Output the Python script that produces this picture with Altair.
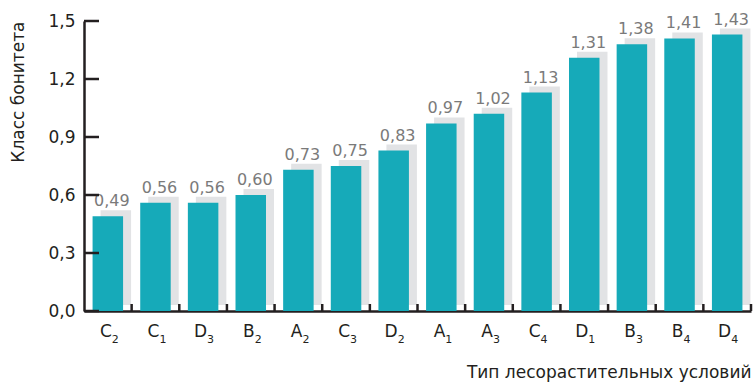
import altair as alt
import pandas as pd

# Forest site types (letter + subscript index) and their site-class values
letters = ["C", "C", "D", "B", "A", "C", "D", "A", "A", "C", "D", "B", "B", "D"]
indices = ["2", "1", "3", "2", "2", "3", "2", "1", "3", "4", "1", "3", "4", "4"]
values = [0.49, 0.56, 0.56, 0.60, 0.73, 0.75, 0.83, 0.97, 1.02, 1.13, 1.31, 1.38, 1.41, 1.43]
y_ticks = [0.0, 0.3, 0.6, 0.9, 1.2, 1.5]

categories = [l + i for l, i in zip(letters, indices)]
df = pd.DataFrame({"cat": categories, "letter": letters, "idx": indices, "value": values})
ticks_df = pd.DataFrame({"value": y_ticks})

FONT = "DejaVu Sans"
INK = "#231f20"
BAR = "#16aab9"
SHADOW = "#e2e3e5"
LABEL = "#7a7a7a"
W, H = 667, 290
STEP = W / 14.0

x_scale = alt.Scale(domain=categories, paddingInner=0.36, paddingOuter=0.18)
y_scale = alt.Scale(domain=[0, 1.5], nice=False, zero=True)

x_axis = alt.Axis(
    labels=False, ticks=False, grid=False, domain=True,
    domainColor=INK, domainWidth=2.5,
    title="Тип лесорастительных условий",
    titleX=W, titleY=66, titleAlign="right", titleBaseline="alphabetic",
    titleFont=FONT, titleFontSize=17, titleFontWeight="normal", titleColor=INK,
)
y_axis = alt.Axis(
    values=y_ticks, ticks=False, grid=False, domain=True,
    domainColor=INK, domainWidth=2.5,
    labelExpr="replace(format(datum.value, '.1f'), '.', ',')",
    labelFont=FONT, labelFontSize=17, labelColor=INK, labelPadding=9,
    title="Класс бонитета",
    titleX=-66, titleY=0, titleAngle=270, titleAlign="right", titleBaseline="middle",
    titleFont=FONT, titleFontSize=17, titleFontWeight="normal", titleColor=INK,
)

x_enc = alt.X("cat:N", scale=x_scale, sort=categories, axis=x_axis)
y_enc = alt.Y("value:Q", scale=y_scale, axis=y_axis)

base = alt.Chart(df)

# Grey drop shadow behind each bar
shadow = base.mark_bar(
    color=SHADOW, xOffset=8, x2Offset=8, yOffset=-6, y2Offset=-6
).encode(x=x_enc, y=y_enc)

bars = base.mark_bar(color=BAR).encode(x=x_enc, y=y_enc)

value_labels = base.transform_calculate(
    txt="replace(format(datum.value, '.2f'), '.', ',')"
).mark_text(
    dx=4, dy=-10, baseline="alphabetic", align="center",
    font=FONT, fontSize=16, color=LABEL
).encode(x=x_enc, y=y_enc, text="txt:N")

# Category labels: capital letter with a subscript index
cat_letters = base.mark_text(
    align="right", dx=4, baseline="alphabetic", font=FONT, fontSize=17, color=INK
).encode(x=x_enc, y=alt.value(H + 26), text="letter:N")

cat_indices = base.mark_text(
    align="left", dx=4, baseline="alphabetic", font=FONT, fontSize=11, color=INK
).encode(x=x_enc, y=alt.value(H + 32), text="idx:N")

# Inward-pointing ticks on both axes
y_tick_marks = alt.Chart(ticks_df).mark_rule(color=INK, strokeWidth=2.5).encode(
    y=y_enc, x=alt.value(0), x2=alt.value(15)
)
x_tick_marks = base.mark_rule(color=INK, strokeWidth=2.5, xOffset=STEP / 2).encode(
    x=x_enc, y=alt.value(H), y2=alt.value(H - 7)
)

chart = alt.layer(
    shadow, bars, value_labels, cat_letters, cat_indices, y_tick_marks, x_tick_marks
).properties(
    width=W, height=H,
    background="white",
    autosize=alt.AutoSizeParams(type="none"),
    padding={"left": 84, "top": 21, "right": 4, "bottom": 72},
).configure_view(stroke=None)

chart.save("out.html", embed_options={"renderer": "svg", "actions": False})
